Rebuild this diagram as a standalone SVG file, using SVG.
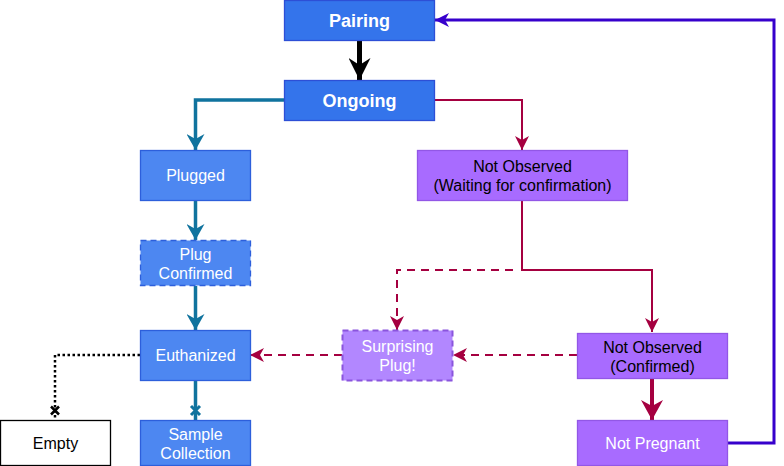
<svg xmlns="http://www.w3.org/2000/svg" width="784" height="466" viewBox="0 0 784 466">
<style>
  .t { font-family: "Liberation Sans", Arial, sans-serif; font-size: 16px; text-anchor: middle; dominant-baseline: central; }
  .w { fill: #ffffff; }
  .k { fill: #000000; }
  .b { font-weight: bold; font-size: 18px; }
  .blueD { fill: #3474EB; stroke: #2D4FD6; stroke-width: 1.3; }
  .blueL { fill: #4D87F1; stroke: #2D5FDB; stroke-width: 1.3; }
  .purp { fill: #A86BFF; stroke: #9257E6; stroke-width: 1.3; }
  .purpL { fill: #B287FF; stroke: #8A55DD; stroke-width: 2; stroke-dasharray: 6 4; }
  .e { fill: none; }
</style>
<defs>
  <marker id="aBlack" markerUnits="userSpaceOnUse" viewBox="-22 -11 22 22" refX="0" refY="0" markerWidth="22" markerHeight="22" orient="auto">
    <path d="M-22,-11 L0,0 L-22,11 L-15,0 Z" fill="#000"/>
  </marker>
  <marker id="aTeal" markerUnits="userSpaceOnUse" viewBox="-16 -9 16 18" refX="0" refY="0" markerWidth="16" markerHeight="18" orient="auto">
    <path d="M-16,-9 L0,0 L-16,9 L-11,0 Z" fill="#10739E"/>
  </marker>
  <marker id="aRed" markerUnits="userSpaceOnUse" viewBox="-14 -7 14 14" refX="0" refY="0" markerWidth="14" markerHeight="14" orient="auto">
    <path d="M-14,-7 L0,0 L-14,7 L-10,0 Z" fill="#A50040"/>
  </marker>
  <marker id="aRedB" markerUnits="userSpaceOnUse" viewBox="-20 -11 20 22" refX="0" refY="0" markerWidth="20" markerHeight="22" orient="auto">
    <path d="M-20,-11 L0,0 L-20,11 L-14,0 Z" fill="#A50040"/>
  </marker>
  <marker id="aBlue" markerUnits="userSpaceOnUse" viewBox="-14 -7 14 14" refX="0" refY="0" markerWidth="14" markerHeight="14" orient="auto">
    <path d="M-14,-7 L0,0 L-14,7 L-10,0 Z" fill="#3700CC"/>
  </marker>
</defs>

<g id="connectors">
  <path class="e" d="M359.5,40 L359.5,80" stroke="#000" stroke-width="5" marker-end="url(#aBlack)"/>
  <path class="e" d="M284,100 L195.5,100 L195.5,150" stroke="#10739E" stroke-width="3.5" marker-end="url(#aTeal)"/>
  <path class="e" d="M435,100 L522,100 L522,150" stroke="#A50040" stroke-width="2" marker-end="url(#aRed)"/>
  <path class="e" d="M195.5,200 L195.5,240" stroke="#10739E" stroke-width="3.5" marker-end="url(#aTeal)"/>
  <path class="e" d="M195.5,286 L195.5,330" stroke="#10739E" stroke-width="3.5" marker-end="url(#aTeal)"/>
  <path class="e" d="M195.5,380 L195.5,420" stroke="#10739E" stroke-width="3.5"/>
  <path d="M191,406 L200,415 M200,406 L191,415" stroke="#10739E" stroke-width="3"/>
  <path class="e" d="M140,355 L55,355 L55,420" stroke="#000" stroke-width="2.5" stroke-dasharray="2.5 2.5"/>
  <path d="M51,406.5 L59,414.5 M59,406.5 L51,414.5" stroke="#000" stroke-width="2.5"/>
  <path class="e" d="M522,200 L522,270 L652,270 L652,332" stroke="#A50040" stroke-width="2" marker-end="url(#aRed)"/>
  <path class="e" d="M513,270 L397,270 L397,330" stroke="#A50040" stroke-width="2" stroke-dasharray="8 6" marker-end="url(#aRed)"/>
  <path class="e" d="M577,355 L453,355" stroke="#A50040" stroke-width="2" stroke-dasharray="8 6" marker-end="url(#aRed)"/>
  <path class="e" d="M342,355 L250,355" stroke="#A50040" stroke-width="2" stroke-dasharray="8 6" marker-end="url(#aRed)"/>
  <path class="e" d="M652,378 L652,420" stroke="#A50040" stroke-width="4" marker-end="url(#aRedB)"/>
  <path class="e" d="M727,443 L774,443 L774,20 L435,20" stroke="#3700CC" stroke-width="3" marker-end="url(#aBlue)"/>
</g>

<g id="pairing">
  <rect class="blueD" x="284.5" y="0.5" width="150" height="40"/>
  <text class="t w b" x="359.5" y="21">Pairing</text>
</g>
<g id="ongoing">
  <rect class="blueD" x="284.5" y="80.5" width="150" height="40"/>
  <text class="t w b" x="359.5" y="101">Ongoing</text>
</g>
<g id="plugged">
  <rect class="blueL" x="140.5" y="150.5" width="110" height="50"/>
  <text class="t w" x="195.5" y="175.5">Plugged</text>
</g>
<g id="plug-confirmed">
  <rect class="blueL" x="140.5" y="240.5" width="110" height="45" stroke-dasharray="6 4" stroke-width="2"/>
  <text class="t w" x="195.5" y="254">Plug</text>
  <text class="t w" x="195.5" y="273">Confirmed</text>
</g>
<g id="euthanized">
  <rect class="blueL" x="140.5" y="330.5" width="110" height="50"/>
  <text class="t w" x="195.5" y="355.5">Euthanized</text>
</g>
<g id="sample-collection">
  <rect class="blueL" x="140.5" y="420.5" width="110" height="45"/>
  <text class="t w" x="195.5" y="434">Sample</text>
  <text class="t w" x="195.5" y="453">Collection</text>
</g>
<g id="empty">
  <rect x="0.5" y="420.5" width="110" height="45" fill="#ffffff" stroke="#000" stroke-width="1.3"/>
  <text class="t k" x="55.5" y="443.5">Empty</text>
</g>
<g id="not-observed-waiting">
  <rect class="purp" x="417.5" y="150.5" width="210" height="50"/>
  <text class="t k" x="522.5" y="166">Not Observed</text>
  <text class="t k" x="522.5" y="185">(Waiting for confirmation)</text>
</g>
<g id="surprising-plug">
  <rect class="purpL" x="342.5" y="330.5" width="110" height="50"/>
  <text class="t w" x="397.5" y="346">Surprising</text>
  <text class="t w" x="397.5" y="365">Plug!</text>
</g>
<g id="not-observed-confirmed">
  <rect class="purp" x="577.5" y="333.5" width="150" height="45"/>
  <text class="t k" x="652.5" y="347">Not Observed</text>
  <text class="t k" x="652.5" y="366">(Confirmed)</text>
</g>
<g id="not-pregnant">
  <rect class="purp" x="577.5" y="420.5" width="150" height="45"/>
  <text class="t w" x="652.5" y="443.5">Not Pregnant</text>
</g>
</svg>
